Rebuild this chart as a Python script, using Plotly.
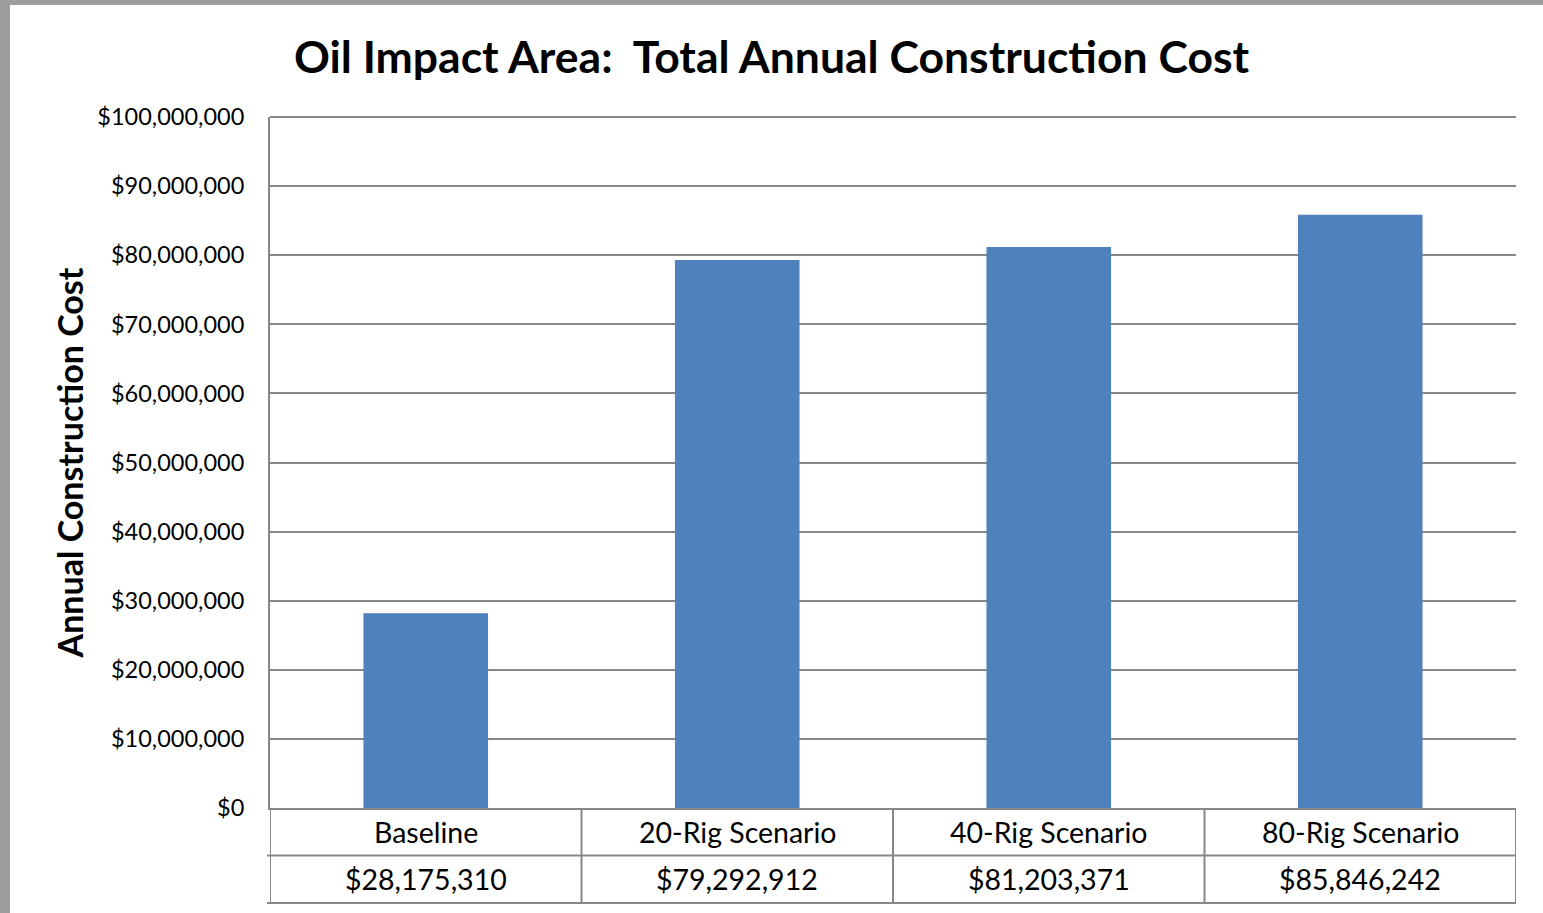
import plotly.graph_objects as go

categories = ['Baseline', '20-Rig Scenario', '40-Rig Scenario', '80-Rig Scenario']
costs = [28175310, 79292912, 81203371, 85846242]
y_ticks = list(range(0, 100000001, 10000000))

W, H = 1543, 913
ml, mr, mt, mb = 270, 27, 117, 105
pw, ph = W - ml - mr, H - mt - mb

font = "Lato, 'Open Sans', sans-serif"
grey = '#878787'

fig = go.Figure()
fig.add_trace(go.Bar(x=categories, y=costs, marker_color='#4F81BD', marker_line_width=0))

fig.update_layout(
    width=W, height=H,
    margin=dict(l=ml, r=mr, t=mt, b=mb),
    paper_bgcolor='#9d9d9d',
    plot_bgcolor='white',
    bargap=0.6,
    showlegend=False,
    font=dict(family=font, color='black'),
    title=dict(text='Oil Impact Area:\u00a0 Total Annual Construction Cost',
               x=0.5, xref='container', xanchor='center', y=1 - 57 / H, yanchor='middle',
               font=dict(size=44.5, family=font, weight='bold', color='black')),
)
fig.update_xaxes(showticklabels=False, showgrid=False, ticks='', range=[-0.5, 3.5],
                 showline=True, linecolor=grey, linewidth=2)
fig.update_yaxes(range=[0, 100000000], tickvals=y_ticks, tickformat='$,.0f',
                 showgrid=True, gridcolor=grey, gridwidth=1.5, zeroline=False,
                 showline=True, linecolor=grey, linewidth=2, ticks='',
                 ticklabelstandoff=19,
                 tickfont=dict(size=23.5, family=font),
                 title=dict(text='<b>Annual Construction Cost</b>', font=dict(size=34, family=font),
                            standoff=3))

# white card on top of the grey page texture
fig.add_shape(type='rect', xref='paper', yref='paper', layer='below',
              x0=-(ml - 10) / pw, x1=1 + mr / pw, y0=-mb / ph, y1=1 + (mt - 5) / ph,
              fillcolor='white', line_width=0)

# top border line of plot
fig.add_shape(type='line', xref='paper', yref='paper', x0=0, x1=1, y0=1, y1=1,
              line=dict(color=grey, width=2))

# data table below the axis
row = 47.5 / ph
for xv in [-0.5, 0.5, 1.5, 2.5, 3.5]:
    fig.add_shape(type='line', xref='x', yref='paper', x0=xv, x1=xv, y0=-2 * row, y1=0,
                  line=dict(color=grey, width=2))
for k in [1, 2]:
    fig.add_shape(type='line', xref='paper', yref='paper', x0=-3 / pw, x1=1, y0=-k * row, y1=-k * row,
                  line=dict(color=grey, width=2))

for c, v in zip(categories, costs):
    fig.add_annotation(x=c, xref='x', yref='paper', y=-0.5 * row, text=c, showarrow=False,
                       yanchor='middle', font=dict(size=28.5, family=font))
    fig.add_annotation(x=c, xref='x', yref='paper', y=-1.5 * row, text=f'${v:,}', showarrow=False,
                       yanchor='middle', font=dict(size=28.5, family=font))

fig.write_html("out.html", config={'displayModeBar': False},
               post_script="document.body.style.margin='0px';document.body.style.overflow='hidden';")
